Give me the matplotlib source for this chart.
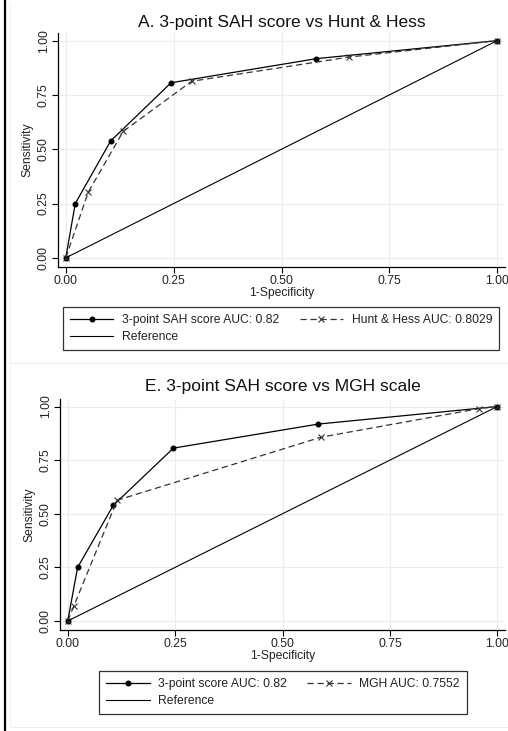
import matplotlib
matplotlib.use("Agg")
import matplotlib.pyplot as plt
from matplotlib.lines import Line2D

plt.rcParams["font.family"] = ["Liberation Sans", "DejaVu Sans"]

# panel A: 3-point SAH score vs Hunt & Hess
a_sah_x = [0.0, 0.022, 0.104, 0.244, 0.581, 1.0]
a_sah_y = [0.0, 0.25, 0.538, 0.806, 0.917, 1.0]
a_hh_x = [0.0, 0.052, 0.133, 0.292, 0.656, 1.0]
a_hh_y = [0.0, 0.302, 0.582, 0.813, 0.924, 1.0]

# panel E: 3-point SAH score vs MGH scale
e_sah_x = [0.0, 0.023, 0.106, 0.246, 0.583, 1.0]
e_sah_y = [0.0, 0.25, 0.539, 0.806, 0.918, 1.0]
e_mgh_x = [0.0, 0.014, 0.115, 0.590, 0.957, 1.0]
e_mgh_y = [0.0, 0.069, 0.563, 0.857, 0.99, 1.0]

ref = [0.0, 1.0]
ticks = [0.0, 0.25, 0.5, 0.75, 1.0]
tick_labels = ["0.00", "0.25", "0.50", "0.75", "1.00"]

W, H = 508, 731
fig = plt.figure(figsize=(W / 100, H / 100), dpi=100)


def px_axes(left, top, right, bottom):
    return fig.add_axes([left / W, 1 - bottom / H, (right - left) / W, (bottom - top) / H])


def roc_panel(ax, title, sx, sy, cx, cy, lab1, lab2, leg_xy, title_pad):
    ax.plot(sx, sy, "-", color="black", lw=0.9, marker="o", ms=3.3, label=lab1)
    ax.plot(cx, cy, "--", color="#333333", lw=0.9, marker="x", ms=4, mew=0.8,
            dashes=(5, 3), label=lab2)
    ax.plot(ref, ref, "-", color="black", lw=0.8, label="Reference")
    ax.set_xlim(-0.018, 1.018)
    ax.set_ylim(-0.042, 1.035)
    ax.set_xticks(ticks)
    ax.set_xticklabels(tick_labels)
    ax.set_yticks(ticks)
    ax.set_yticklabels(tick_labels, rotation=90, va="center")
    ax.tick_params(labelsize=8.7, length=4, width=0.8, pad=2, labelcolor="#222222")
    ax.grid(color="#ececec", lw=0.8)
    ax.set_axisbelow(True)
    for s in ("top", "right"):
        ax.spines[s].set_visible(False)
    for s in ("left", "bottom"):
        ax.spines[s].set_linewidth(0.9)
    ax.set_xlabel("1-Specificity", fontsize=8.7, labelpad=0, color="#222222")
    ax.set_ylabel("Sensitivity", fontsize=8.7, labelpad=3, color="#222222")
    ax.set_title(title, fontsize=12.5, pad=title_pad, color="#111111")
    h, l = ax.get_legend_handles_labels()
    order = [0, 2, 1]
    leg = ax.legend([h[i] for i in order], [l[i] for i in order], ncol=2,
                    loc="center", bbox_to_anchor=leg_xy, bbox_transform=fig.transFigure,
                    fontsize=8.7, frameon=True, fancybox=False, edgecolor="black",
                    handlelength=3.6, handletextpad=0.7, columnspacing=1.7,
                    labelspacing=0.4, borderpad=0.6, numpoints=1)
    leg.get_frame().set_linewidth(0.9)
    for t in leg.get_texts():
        t.set_color("#222222")


ax1 = px_axes(58, 33, 505, 267)
roc_panel(ax1, "A. 3-point SAH score vs Hunt & Hess", a_sah_x, a_sah_y, a_hh_x, a_hh_y,
          "3-point SAH score AUC: 0.82", "Hunt & Hess AUC: 0.8029",
          (281 / W, 1 - 328.5 / H), 4.5)

ax2 = px_axes(60, 399, 505, 630)
roc_panel(ax2, "E. 3-point SAH score vs MGH scale", e_sah_x, e_sah_y, e_mgh_x, e_mgh_y,
          "3-point score AUC: 0.82", "MGH AUC: 0.7552",
          (283 / W, 1 - 692.5 / H), 6)

# frame details of the composite image
fig.add_artist(Line2D([4.5 / W, 4.5 / W], [0, 1], color="black", lw=1.6))
fig.add_artist(Line2D([10 / W, 1], [1 - 363 / H, 1 - 363 / H], color="#eeeeee", lw=0.8))
fig.add_artist(Line2D([10 / W, 1], [1 - 727 / H, 1 - 727 / H], color="#eeeeee", lw=0.8))
fig.add_artist(Line2D([10 / W, 10 / W], [1 - 727 / H, 1 - 4 / H], color="#f2f2f2", lw=0.8))

fig.savefig("out.png", dpi=100)
